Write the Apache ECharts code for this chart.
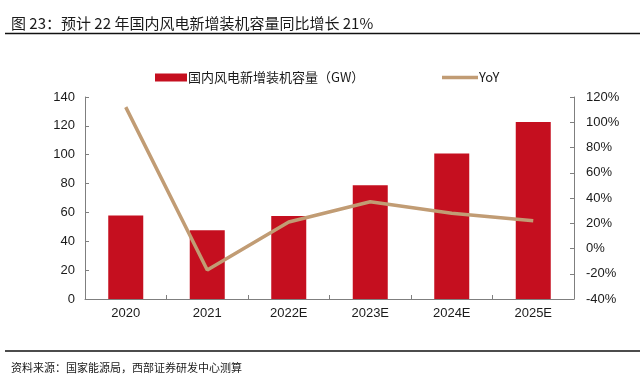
<!DOCTYPE html>
<html>
<head>
<meta charset="utf-8">
<script src="https://cdn.jsdelivr.net/npm/echarts@6/dist/echarts.min.js"></script>
<style>
  html, body { margin: 0; padding: 0; background: #fff; }
  #chart { width: 640px; height: 376px; }
</style>
</head>
<body>
<div id="chart"></div>
<script>
// 数据
const categories = ['2020', '2021', '2022E', '2023E', '2024E', '2025E']
const capacity = [57.8, 47.6, 57.6, 78.8, 100.9, 122.7]
const yoy = [112, -17, 21, 37, 28, 22]
const barName = '国内风电新增装机容量（GW）'
const lineName = 'YoY'

const chartInstance = echarts.init(document.getElementById('chart'))
const axisColor = '#7f7f7f'
const labelStyle = {
  color: '#1a1a1a',
  fontSize: 13,
  fontFamily: 'Liberation Sans, Arial, sans-serif'
}
const legendText = {
  color: '#1a1a1a',
  fontSize: 13,
  fontFamily: 'Noto Sans CJK SC, Liberation Sans, sans-serif',
  padding: [0, 0, 0, -4]
}

const option = {
  backgroundColor: '#fff',
  animation: false,
  title: [
    {
      text: '图 23：预计 22 年国内风电新增装机容量同比增长 21%',
      left: 6,
      top: 11,
      textStyle: {
        color: '#1a1a1a',
        fontSize: 15,
        fontWeight: 'normal',
        fontFamily: 'Noto Sans CJK SC, sans-serif'
      }
    },
    {
      text: '资料来源：国家能源局，西部证券研发中心测算',
      left: 6,
      top: 357,
      textStyle: {
        color: '#1a1a1a',
        fontSize: 11,
        fontWeight: 'normal',
        fontFamily: 'Noto Sans CJK SC, sans-serif'
      }
    }
  ],
  graphic: [
    {
      type: 'line',
      shape: { x1: 5, y1: 33.5, x2: 640, y2: 33.5 },
      style: { stroke: '#111', lineWidth: 1.5 }
    },
    {
      type: 'line',
      shape: { x1: 5, y1: 351, x2: 640, y2: 351 },
      style: { stroke: '#111', lineWidth: 1.5 }
    }
  ],
  legend: [
    {
      top: 66,
      left: 150,
      itemWidth: 32,
      itemHeight: 8,
      textStyle: legendText,
      data: [{ name: barName, icon: 'rect' }]
    },
    {
      top: 66,
      left: 437,
      itemWidth: 36,
      itemHeight: 3.5,
      textStyle: legendText,
      data: [{ name: lineName, icon: 'rect' }]
    }
  ],
  grid: {
    left: 85,
    right: 66,
    top: 97,
    bottom: 77
  },
  xAxis: {
    type: 'category',
    data: categories,
    axisLine: { lineStyle: { color: axisColor } },
    axisTick: { show: true, inside: true, length: 4, lineStyle: { color: axisColor } },
    axisLabel: Object.assign({ margin: 8 }, labelStyle)
  },
  yAxis: [
    {
      type: 'value',
      min: 0,
      max: 140,
      interval: 20,
      position: 'left',
      splitLine: { show: false },
      axisLine: { show: true, lineStyle: { color: axisColor } },
      axisTick: { show: true, inside: true, length: 4, lineStyle: { color: axisColor } },
      axisLabel: Object.assign({ margin: 10 }, labelStyle)
    },
    {
      type: 'value',
      min: -40,
      max: 120,
      interval: 20,
      position: 'right',
      splitLine: { show: false },
      axisLine: { show: true, lineStyle: { color: axisColor } },
      axisTick: { show: true, inside: true, length: 4, lineStyle: { color: axisColor } },
      axisLabel: Object.assign({ margin: 12, formatter: '{value}%' }, labelStyle)
    }
  ],
  series: [
    {
      name: barName,
      type: 'bar',
      data: capacity,
      barWidth: 35,
      itemStyle: { color: '#C50F1F' }
    },
    {
      name: lineName,
      type: 'line',
      yAxisIndex: 1,
      data: yoy,
      symbol: 'none',
      lineStyle: { color: '#C19C74', width: 3.5 },
      itemStyle: { color: '#C19C74' }
    }
  ]
}
chartInstance.setOption(option)
</script>
</body>
</html>
